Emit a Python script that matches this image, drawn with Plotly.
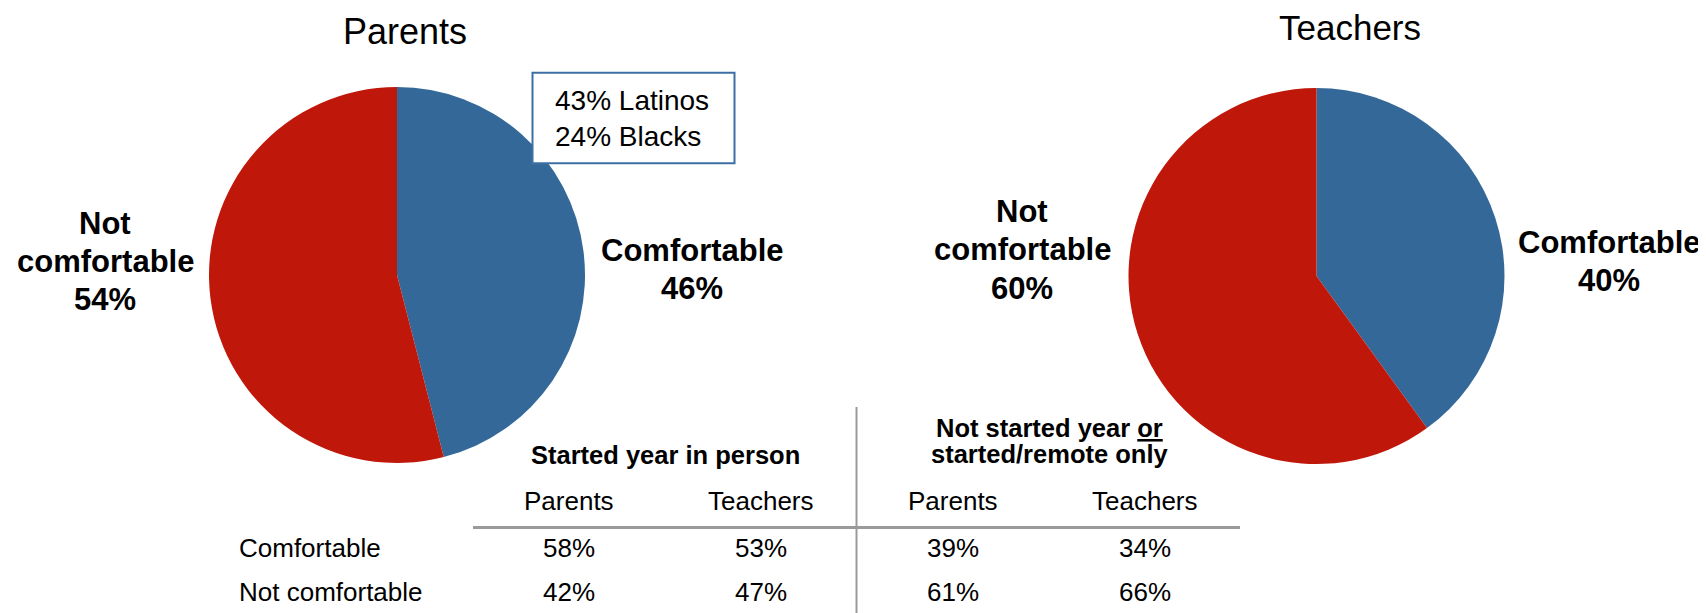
import plotly.graph_objects as go

W, H = 1706, 613
OFF = 8  # page offset of the plot div (body margin)

# ---- data ----
categories = ["Comfortable", "Not comfortable"]
parents_vals = [46, 54]
teachers_vals = [40, 60]
box_lines = ["43% Latinos", "24% Blacks"]
table_group_lines = [
    ["Started year in person"],
    ["Not started year <span style='text-decoration:underline'>or</span>", "started/remote only"],
]
table_cols = ["Parents", "Teachers", "Parents", "Teachers"]
table_comfortable = [58, 53, 39, 34]
table_not_comfortable = [42, 47, 61, 66]

BLUE = "#346899"
RED = "#C0170B"
FONT = "Liberation Sans, Arial, sans-serif"


def fx(x):
    return (x - OFF) / W


def fy(y):
    return 1 - (y - OFF) / H


fig = go.Figure()

# pies (page-pixel boxes)
pie_specs = [
    ("Parents", parents_vals, (209, 585), (87, 463)),
    ("Teachers", teachers_vals, (1128, 1505), (88, 464)),
]
for name, vals, (x0, x1), (y0, y1) in pie_specs:
    fig.add_trace(go.Pie(
        labels=categories, values=vals, name=name,
        sort=False, direction="clockwise", rotation=0,
        marker=dict(colors=[BLUE, RED], line=dict(width=0)),
        textinfo="none", hoverinfo="label+percent", showlegend=False,
        domain=dict(x=[fx(x0), fx(x1)], y=[fy(y1), fy(y0)]),
    ))

ann = []


def add_text(x, y, text, size, bold=False, xanchor="center"):
    ann.append(dict(
        x=fx(x), y=fy(y), xref="paper", yref="paper", showarrow=False,
        text=f"<b>{text}</b>" if bold else text,
        font=dict(family=FONT, size=size, color="black"),
        xanchor=xanchor, yanchor="middle", align="left" if xanchor == "left" else "center",
    ))


def add_lines(x, ys, lines, size, bold=False, xanchor="center"):
    for yy, t in zip(ys, lines):
        add_text(x, yy, t, size, bold=bold, xanchor=xanchor)


# titles
add_text(405, 32, "Parents", 36)
ann.append(dict(
    x=fx(1350), y=1, xref="paper", yref="paper", showarrow=False,
    text="Teachers", font=dict(family=FONT, size=35, color="black"),
    xanchor="center", yanchor="top", borderpad=0, borderwidth=0,
))

# pie labels
LBL = 31
not_words = categories[1].split(" ")
add_lines(692, [250.5, 288.8], [categories[0], f"{parents_vals[0]}%"], LBL, bold=True)
add_lines(105, [224, 261.7, 299.7], [not_words[0], not_words[1], f"{parents_vals[1]}%"], LBL, bold=True)
add_lines(1609, [242.2, 280.5], [categories[0], f"{teachers_vals[0]}%"], LBL, bold=True)
add_lines(1022, [211.5, 249.8, 288.5], [not_words[0], not_words[1], f"{teachers_vals[1]}%"], LBL, bold=True)

# callout box text
add_lines(552.5, [101, 136.7], box_lines, 28, xanchor="left")

# table group headers
add_lines(665, [455], table_group_lines[0], 25.5, bold=True)
add_lines(1049.5, [428.3, 454.3], table_group_lines[1], 25.5, bold=True)

TBL = 26
col_x = [569, 760.5, 953, 1145]
for cx, c in zip(col_x, table_cols):
    add_text(cx, 501, c, TBL)
add_text(236.7, 548, categories[0], TBL, xanchor="left")
add_text(236.7, 592.3, categories[1], TBL, xanchor="left")
for cx, v in zip(col_x, table_comfortable):
    add_text(cx, 548, f"{v}%", TBL)
for cx, v in zip(col_x, table_not_comfortable):
    add_text(cx, 592.3, f"{v}%", TBL)

shapes = [
    # callout box
    dict(type="rect", xref="paper", yref="paper",
         x0=fx(532.5), x1=fx(734.5), y0=fy(163.3), y1=fy(72.7),
         line=dict(color="#3C6FA3", width=2), fillcolor="white", layer="above"),
    # table horizontal rule
    dict(type="line", xref="paper", yref="paper",
         x0=fx(473), x1=fx(1240), y0=fy(527.5), y1=fy(527.5),
         line=dict(color="#9A9A9A", width=3)),
    # table vertical rule
    dict(type="line", xref="paper", yref="paper",
         x0=fx(856.5), x1=fx(856.5), y0=fy(407), y1=fy(625),
         line=dict(color="#9A9A9A", width=2)),
]

fig.update_layout(
    width=W, height=H,
    margin=dict(l=0, r=0, t=0, b=0),
    paper_bgcolor="white", plot_bgcolor="white",
    annotations=ann, shapes=shapes,
    font=dict(family=FONT),
)

fig.write_html("out.html")
